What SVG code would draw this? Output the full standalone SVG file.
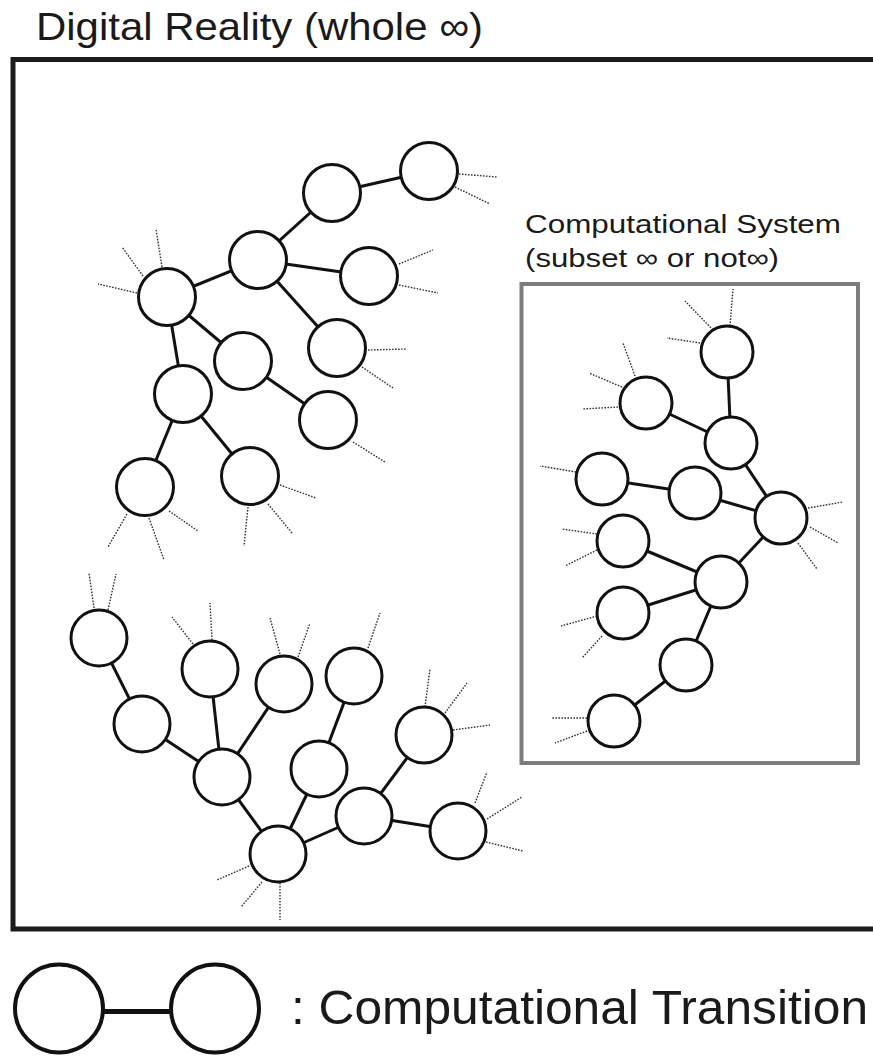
<svg xmlns="http://www.w3.org/2000/svg" width="873" height="1057" viewBox="0 0 873 1057">
  <style>
    .frame { fill: none; stroke: #1c1c1c; stroke-width: 5; }
    .subframe { fill: none; stroke: #7d7d7d; stroke-width: 4; }
    .node { fill: #ffffff; stroke: #111111; stroke-width: 3; }
    .edge { stroke: #111111; stroke-width: 3; fill: none; }
    .stub { stroke: #333333; stroke-width: 1.4; stroke-dasharray: 1.6 1.4; fill: none; }
    .label { font-family: "Liberation Sans", Arial, Helvetica, sans-serif; fill: #1a1a1a; }
  </style>

  <!-- outer frame: open on the right, runs past the edge -->
  <text class="label" x="36" y="40" font-size="39.5" textLength="447" lengthAdjust="spacingAndGlyphs">Digital Reality (whole ∞)</text>
  <path class="frame" d="M 873 59.5 H 13 V 929 H 873"/>

  <!-- sub-system frame -->
  <g id="system-label">
    <text class="label" x="525" y="233" font-size="26" textLength="316" lengthAdjust="spacingAndGlyphs">Computational System</text>
    <text class="label" x="525" y="266.5" font-size="26" textLength="254" lengthAdjust="spacingAndGlyphs">(subset ∞ or not∞)</text>
  </g>
  <rect class="subframe" x="521.5" y="284" width="336.5" height="479"/>

  <!-- transitions between states -->
  <g id="connectors">
    <!-- upper-left cluster -->
    <line class="edge" x1="332" y1="193" x2="429" y2="171"/>
    <line class="edge" x1="258" y1="260" x2="332" y2="193"/>
    <line class="edge" x1="258" y1="260" x2="369" y2="276"/>
    <line class="edge" x1="258" y1="260" x2="337" y2="348"/>
    <line class="edge" x1="167" y1="297" x2="258" y2="260"/>
    <line class="edge" x1="167" y1="297" x2="243" y2="361"/>
    <line class="edge" x1="167" y1="297" x2="183" y2="394"/>
    <line class="edge" x1="243" y1="361" x2="328" y2="420"/>
    <line class="edge" x1="183" y1="394" x2="145" y2="487"/>
    <line class="edge" x1="183" y1="394" x2="250" y2="476"/>
    <!-- system cluster -->
    <line class="edge" x1="727" y1="352" x2="731" y2="443"/>
    <line class="edge" x1="646" y1="403" x2="731" y2="443"/>
    <line class="edge" x1="731" y1="443" x2="781" y2="518"/>
    <line class="edge" x1="602" y1="479" x2="695" y2="493"/>
    <line class="edge" x1="695" y1="493" x2="781" y2="518"/>
    <line class="edge" x1="781" y1="518" x2="721" y2="582"/>
    <line class="edge" x1="623" y1="541" x2="721" y2="582"/>
    <line class="edge" x1="623" y1="613" x2="721" y2="582"/>
    <line class="edge" x1="721" y1="582" x2="686" y2="665"/>
    <line class="edge" x1="686" y1="665" x2="614" y2="721"/>
    <!-- lower cluster -->
    <line class="edge" x1="99" y1="638" x2="142" y2="724"/>
    <line class="edge" x1="142" y1="724" x2="222" y2="777"/>
    <line class="edge" x1="210" y1="669" x2="222" y2="777"/>
    <line class="edge" x1="284" y1="684" x2="222" y2="777"/>
    <line class="edge" x1="222" y1="777" x2="278" y2="854"/>
    <line class="edge" x1="319" y1="769" x2="278" y2="854"/>
    <line class="edge" x1="354" y1="676" x2="319" y2="769"/>
    <line class="edge" x1="278" y1="854" x2="364" y2="816"/>
    <line class="edge" x1="364" y1="816" x2="424" y2="735"/>
    <line class="edge" x1="364" y1="816" x2="458" y2="831"/>
  </g>

  <!-- open (dotted) transitions leading out of the drawn states -->
  <g id="open-transitions">
    <path class="stub" d="M459 174 L497 177 M455 187 L490 204"/>
    <path class="stub" d="M399 264 L433 250 M399 285 L438 293"/>
    <path class="stub" d="M368 350 L407 349 M362 367 L393 388"/>
    <path class="stub" d="M353 442 L385 462"/>
    <path class="stub" d="M280 485 L316 498 M268 504 L292 533 M248 507 L244 546"/>
    <path class="stub" d="M127 514 L108 547 M149 518 L164 560 M169 511 L198 531"/>
    <path class="stub" d="M137 293 L98 284 M143 276 L122 247 M162 267 L156 229"/>

    <path class="stub" d="M713 330 L685 301 M730 326 L733 289 M700 343 L667 338"/>
    <path class="stub" d="M635 376 L623 343 M622 387 L589 373 M618 407 L583 409"/>
    <path class="stub" d="M576 472 L540 466"/>
    <path class="stub" d="M808 508 L843 502 M810 527 L838 543 M798 543 L817 569"/>
    <path class="stub" d="M597 534 L562 529 M597 550 L565 566"/>
    <path class="stub" d="M597 616 L561 626 M602 636 L582 658"/>
    <path class="stub" d="M587 718 L551 718 M587 731 L555 743"/>

    <path class="stub" d="M94 608 L89 573 M108 610 L116 574"/>
    <path class="stub" d="M193 644 L172 617 M212 640 L210 603"/>
    <path class="stub" d="M280 654 L270 618 M298 657 L310 623"/>
    <path class="stub" d="M368 648 L380 613"/>
    <path class="stub" d="M425 707 L430 669 M445 713 L467 683 M453 730 L490 725"/>
    <path class="stub" d="M475 803 L487 772 M487 819 L522 797 M486 842 L523 851"/>
    <path class="stub" d="M249 866 L217 880 M262 882 L241 907 M280 883 L280 920"/>
  </g>

  <!-- states: upper-left cluster -->
  <g id="u-a"><circle class="node" cx="429" cy="171" r="28.5"/></g>
  <g id="u-b"><circle class="node" cx="332" cy="193" r="28.5"/></g>
  <g id="u-c"><circle class="node" cx="258" cy="260" r="28.5"/></g>
  <g id="u-d"><circle class="node" cx="369" cy="276" r="28.5"/></g>
  <g id="u-e"><circle class="node" cx="167" cy="297" r="28.5"/></g>
  <g id="u-f"><circle class="node" cx="337" cy="348" r="28.5"/></g>
  <g id="u-g"><circle class="node" cx="243" cy="361" r="28.5"/></g>
  <g id="u-h"><circle class="node" cx="183" cy="394" r="28.5"/></g>
  <g id="u-i"><circle class="node" cx="328" cy="420" r="28.5"/></g>
  <g id="u-j"><circle class="node" cx="145" cy="487" r="28.5"/></g>
  <g id="u-k"><circle class="node" cx="250" cy="476" r="28.5"/></g>

  <!-- states: computational system -->
  <g id="s-1"><circle class="node" cx="727" cy="352" r="26"/></g>
  <g id="s-2"><circle class="node" cx="646" cy="403" r="26"/></g>
  <g id="s-3"><circle class="node" cx="731" cy="443" r="26"/></g>
  <g id="s-4"><circle class="node" cx="602" cy="479" r="26"/></g>
  <g id="s-5"><circle class="node" cx="695" cy="493" r="26"/></g>
  <g id="s-6"><circle class="node" cx="781" cy="518" r="26"/></g>
  <g id="s-7"><circle class="node" cx="623" cy="541" r="26"/></g>
  <g id="s-8"><circle class="node" cx="721" cy="582" r="26"/></g>
  <g id="s-9"><circle class="node" cx="623" cy="613" r="26"/></g>
  <g id="s-10"><circle class="node" cx="686" cy="665" r="26"/></g>
  <g id="s-11"><circle class="node" cx="614" cy="721" r="26"/></g>

  <!-- states: lower cluster -->
  <g id="l-1"><circle class="node" cx="99" cy="638" r="28"/></g>
  <g id="l-2"><circle class="node" cx="142" cy="724" r="28"/></g>
  <g id="l-3"><circle class="node" cx="210" cy="669" r="28"/></g>
  <g id="l-4"><circle class="node" cx="284" cy="684" r="28"/></g>
  <g id="l-5"><circle class="node" cx="354" cy="676" r="28"/></g>
  <g id="l-6"><circle class="node" cx="424" cy="735" r="28"/></g>
  <g id="l-7"><circle class="node" cx="222" cy="777" r="28"/></g>
  <g id="l-8"><circle class="node" cx="319" cy="769" r="28"/></g>
  <g id="l-9"><circle class="node" cx="364" cy="816" r="28"/></g>
  <g id="l-10"><circle class="node" cx="458" cy="831" r="28"/></g>
  <g id="l-11"><circle class="node" cx="278" cy="854" r="28"/></g>

  <!-- legend -->
  <g id="legend">
    <line x1="103" y1="1011.5" x2="170" y2="1011.5" stroke="#111" stroke-width="5"/>
    <circle cx="59" cy="1008.5" r="44" fill="#fff" stroke="#111" stroke-width="4"/>
    <circle cx="215" cy="1008.5" r="44" fill="#fff" stroke="#111" stroke-width="4"/>
    <text class="label" x="291" y="1024" font-size="48" textLength="577" lengthAdjust="spacingAndGlyphs">: Computational Transition</text>
  </g>
</svg>
